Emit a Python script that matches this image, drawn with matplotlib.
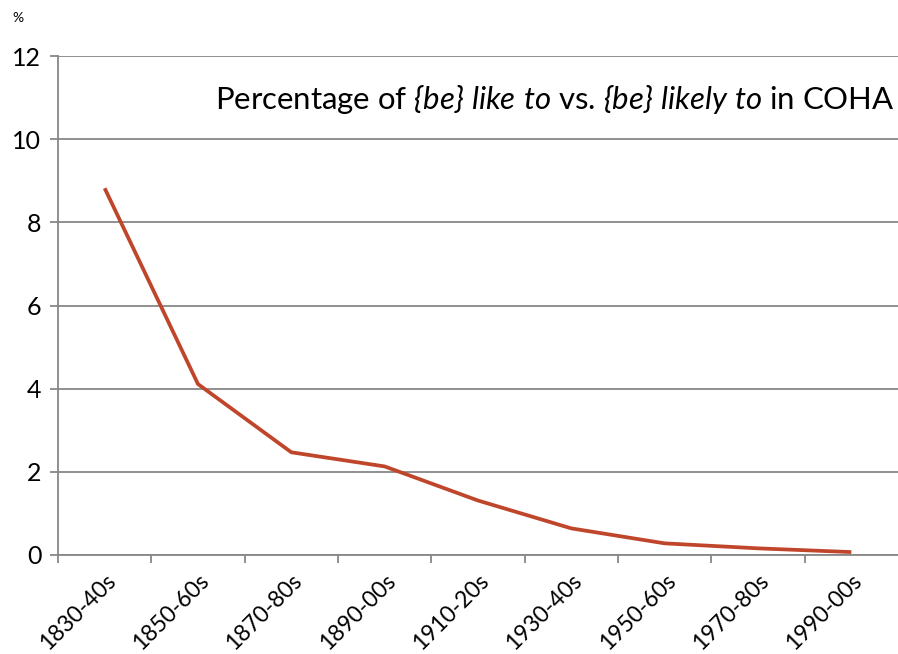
"""
Line chart: share of {be} like to vs. {be} likely to in COHA
"""

import numpy as np
import matplotlib
matplotlib.use('Agg')
import matplotlib.pyplot as plt

# data
periods = ['1830-40s', '1850-60s', '1870-80s', '1890-00s', '1910-20s',
           '1930-40s', '1950-60s', '1970-80s', '1990-00s']
percent = [8.82, 4.11, 2.47, 2.13, 1.31, 0.64, 0.28, 0.16, 0.07]
y_ticks = [0, 2, 4, 6, 8, 10, 12]

plt.rcParams['font.family'] = ['Lato', 'DejaVu Sans']
plt.rcParams['mathtext.fontset'] = 'custom'
# only the italic parts of the title go through mathtext
plt.rcParams['mathtext.rm'] = 'Lato:italic'
plt.rcParams['mathtext.it'] = 'Lato:italic'

grid_color = '#878787'
line_color = '#C0462B'

fig = plt.figure(figsize=(8.98, 6.54), dpi=100)
ax = fig.add_axes([58 / 898, 1 - 555 / 654, 1 - 58 / 898, (555 - 56) / 654])

x = np.arange(len(periods))
ax.plot(x, percent, color=line_color, lw=2.7, solid_joinstyle='round',
        solid_capstyle='butt', zorder=3)

ax.set_xlim(-0.5, len(periods) - 0.5)
ax.set_ylim(0, 12)

# gridlines
ax.set_yticks(y_ticks)
ax.yaxis.grid(True, color=grid_color, lw=1.3)
ax.set_axisbelow(True)

# tick marks at category boundaries, labels at centres
ax.set_xticks(np.arange(len(periods)) - 0.5)
ax.set_xticklabels([])
ax.set_xticks(x, minor=True)
ax.set_xticklabels(periods, minor=True, rotation=45, ha='right',
                   va='top', rotation_mode='anchor', fontsize=16.5)
ax.tick_params(axis='x', which='minor', length=0, pad=11)
ax.tick_params(axis='x', which='major', length=6, width=1.3, color=grid_color)
ax.tick_params(axis='y', length=6, width=1.3, color=grid_color,
               labelsize=18, pad=6)

for side in ['top', 'right']:
    ax.spines[side].set_visible(False)
for side in ['left', 'bottom']:
    ax.spines[side].set_color(grid_color)
    ax.spines[side].set_linewidth(1.3)

fig.text(12 / 898, 1 - 18 / 654, '%', fontsize=10, va='center', ha='left')

title = (r'Percentage of $\{be\}\ like\ to$ vs. '
         r'$\{be\}\ likely\ to$ in COHA')
fig.text(895 / 898, 1 - 100 / 654, title, fontsize=22.4, ha='right', va='center')

plt.savefig('out.png', dpi=100)
